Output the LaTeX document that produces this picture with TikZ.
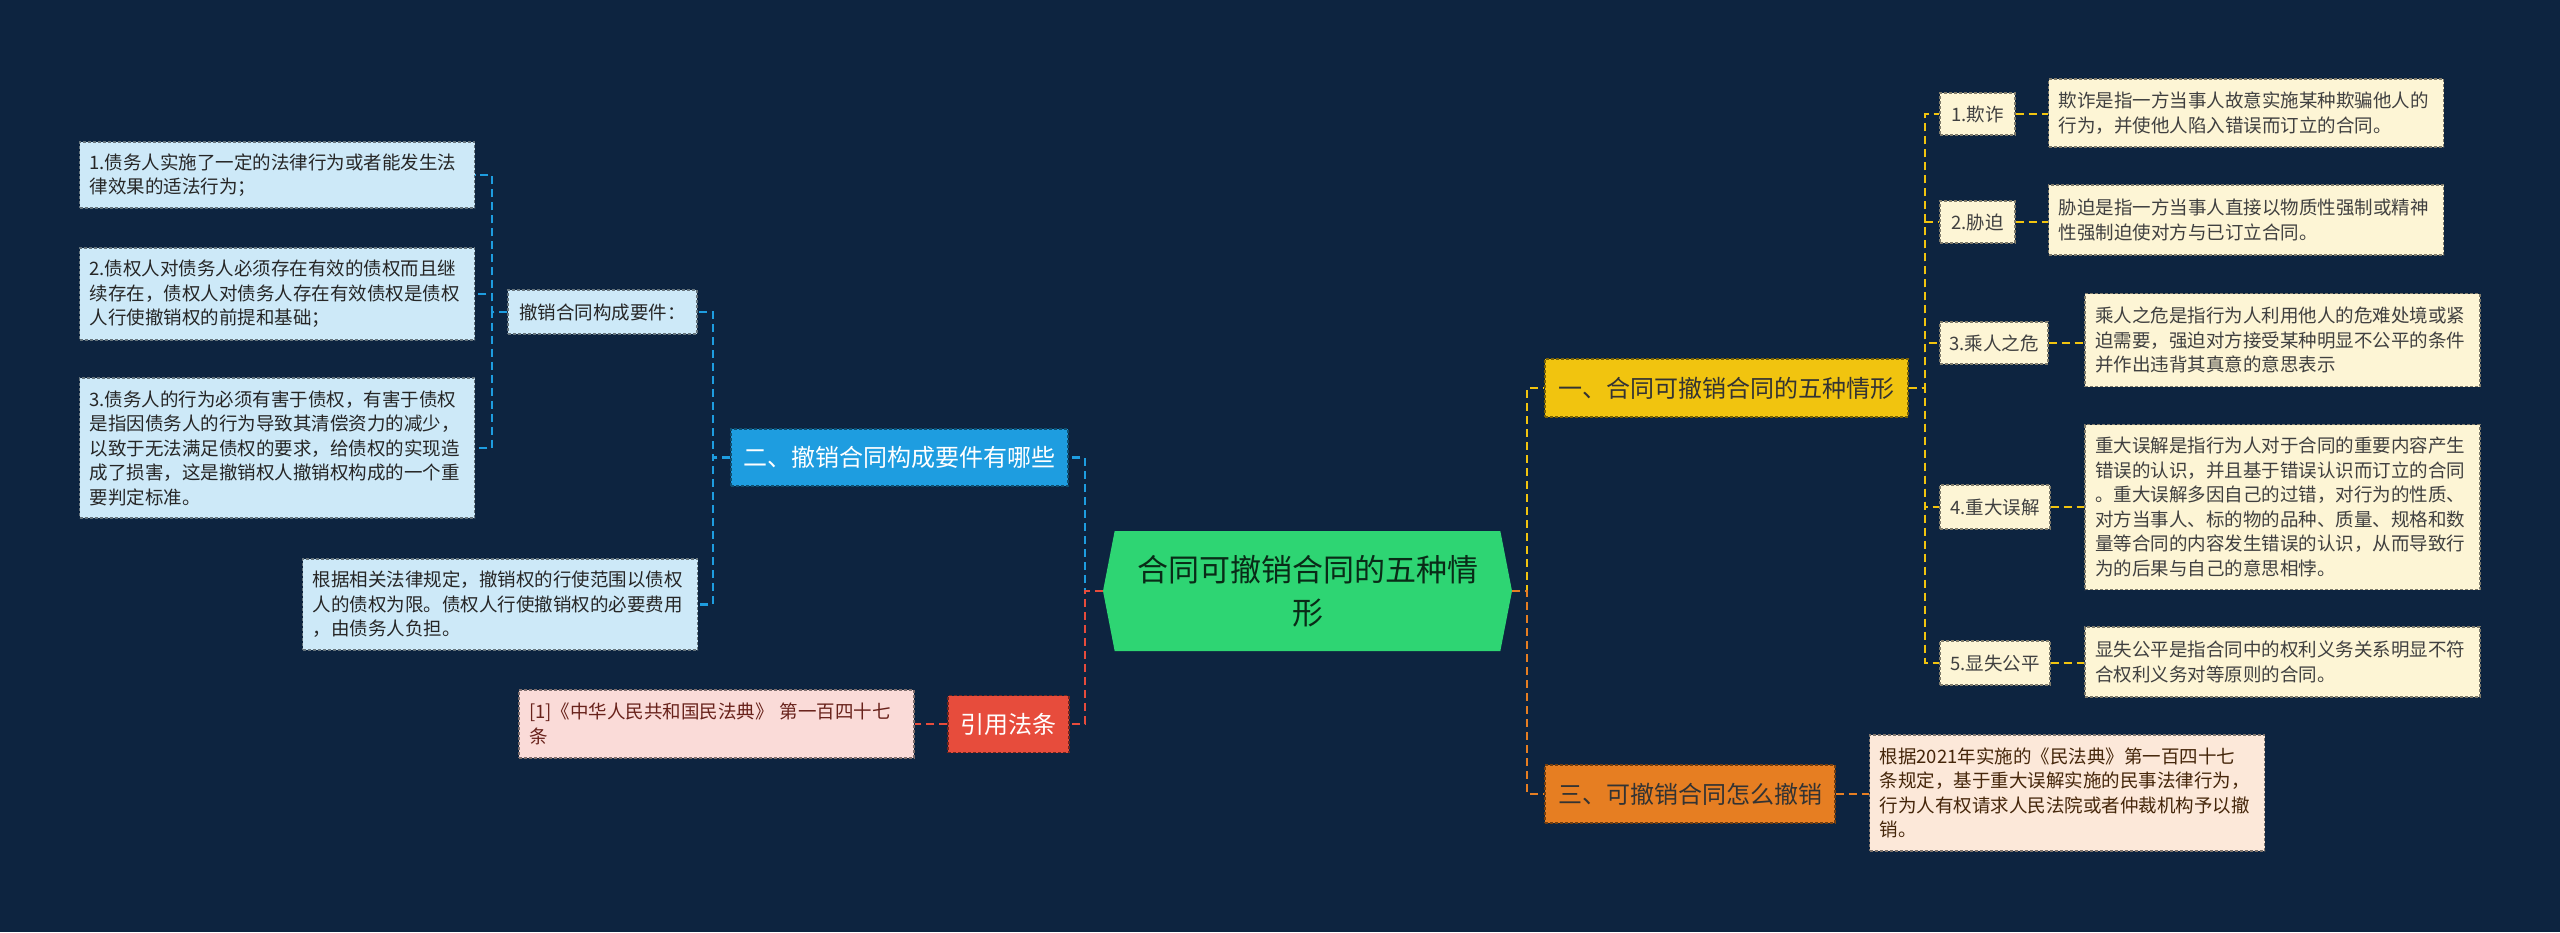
\documentclass[tikz,border=0pt]{standalone}
\usepackage{fontspec}
\setmainfont{Noto Sans CJK SC}
\usetikzlibrary{shapes.symbols}
\definecolor{bgnavy}{HTML}{0D2440}
\definecolor{cgreen}{HTML}{2ED573}
\definecolor{cblue}{HTML}{1E9DE0}
\definecolor{clblue}{HTML}{CDE9F8}
\definecolor{cyel}{HTML}{F1C40F}
\definecolor{ccream}{HTML}{FDF5D5}
\definecolor{corange}{HTML}{E67E22}
\definecolor{cpeach}{HTML}{FCE8D9}
\definecolor{cred}{HTML}{E74C3C}
\definecolor{cpink}{HTML}{FADBD8}

\begin{document}
\begin{tikzpicture}[x=1pt,y=-1pt,
  tbox/.style={fill=#1, draw=#1!50!black, dash pattern=on 3pt off 2pt, line width=1.1pt, inner ysep=0pt},
  txtbox/.style={text width=375pt, inner xsep=10pt, align=left, font=\fontsize{18.5}{24.5}\selectfont},
  lab/.style={minimum height=42pt, inner xsep=6pt, font=\fontsize{18.5}{22}\selectfont},
  big/.style={minimum height=57pt, inner xsep=12pt, font=\fontsize{24}{28}\selectfont},
  link/.style={line width=2.4pt, dash pattern=on 8pt off 5pt}]
\useasboundingbox (0,0) rectangle (2560,932);
\fill[bgnavy] (0,0) rectangle (2560,932);
% centre
\node[shape=signal, signal to=west and east, signal pointer angle=158, fill=cgreen,
  minimum width=409pt, minimum height=120pt, inner sep=0pt, text=black!80!cgreen,
  align=center, font=\fontsize{31}{43}\selectfont] (root) at (1307.5,591)
  {合同可撤销合同的五种情\\形};
% left side
\node[tbox=cblue, big, text=white, minimum width=337pt] (two) at (899.5,457.5) {二、撤销合同构成要件有哪些};
\node[tbox=clblue, lab, text=black!85, minimum width=189pt, minimum height=44pt] (req) at (602.5,312) {撤销合同构成要件：};
\node[tbox=clblue, txtbox, text=black!85, minimum height=66pt] (reqa) at (277,175)
  {1.债务人实施了一定的法律行为或者能发生法\\律效果的适法行为；};
\node[tbox=clblue, txtbox, text=black!85, minimum height=92pt] (reqb) at (277,294)
  {2.债权人对债务人必须存在有效的债权而且继\\续存在，债权人对债务人存在有效债权是债权\\人行使撤销权的前提和基础；};
\node[tbox=clblue, txtbox, text=black!85, minimum height=140pt] (reqc) at (277,448)
  {3.债务人的行为必须有害于债权，有害于债权\\是指因债务人的行为导致其清偿资力的减少，\\以致于无法满足债权的要求，给债权的实现造\\成了损害，这是撤销权人撤销权构成的一个重\\要判定标准。};
\node[tbox=clblue, txtbox, text=black!85, minimum height=91pt] (scope) at (500,604.5)
  {根据相关法律规定，撤销权的行使范围以债权\\人的债权为限。债权人行使撤销权的必要费用\\，由债务人负担。};
\node[tbox=cred, big, text=white, minimum width=121pt] (cite) at (1008.5,724) {引用法条};
\node[tbox=cpink, txtbox, text=cred!45!black, minimum height=68pt] (law) at (716.5,724)
  {[1]《中华人民共和国民法典》~第一百四十七\\条};
% right side
\node[tbox=cyel, big, text=black!80, minimum width=363pt, minimum height=58pt] (one) at (1726.5,388) {一、合同可撤销合同的五种情形};
\node[tbox=corange, big, text=black!80, minimum width=290pt, minimum height=58pt] (three) at (1690,794) {三、可撤销合同怎么撤销};
\node[tbox=cpeach, txtbox, text=corange!30!black, minimum height=116pt] (how) at (2067,793)
  {根据2021年实施的《民法典》第一百四十七\\条规定，基于重大误解实施的民事法律行为，\\行为人有权请求人民法院或者仲裁机构予以撤\\销。};
\node[tbox=ccream, lab, text=black!75, minimum width=75pt] (fraud) at (1977.5,114) {1.欺诈};
\node[tbox=ccream, lab, text=black!75, minimum width=75pt] (duress) at (1977.5,222) {2.胁迫};
\node[tbox=ccream, lab, text=black!75, minimum width=108pt] (peril) at (1994,343) {3.乘人之危};
\node[tbox=ccream, lab, text=black!75, minimum width=110pt, minimum height=44pt] (mistake) at (1995,507) {4.重大误解};
\node[tbox=ccream, lab, text=black!75, minimum width=110pt, minimum height=44pt] (unfair) at (1995,663) {5.显失公平};
\node[tbox=ccream, txtbox, text=black!75, minimum height=68pt] (fraudt) at (2246,113)
  {欺诈是指一方当事人故意实施某种欺骗他人的\\行为，并使他人陷入错误而订立的合同。};
\node[tbox=ccream, txtbox, text=black!75, minimum height=70pt] (duresst) at (2246,220)
  {胁迫是指一方当事人直接以物质性强制或精神\\性强制迫使对方与已订立合同。};
\node[tbox=ccream, txtbox, text=black!75, minimum height=93pt] (perilt) at (2282.5,340)
  {乘人之危是指行为人利用他人的危难处境或紧\\迫需要，强迫对方接受某种明显不公平的条件\\并作出违背其真意的意思表示};
\node[tbox=ccream, txtbox, text=black!75, minimum height=165pt] (mistaket) at (2282.5,507)
  {重大误解是指行为人对于合同的重要内容产生\\错误的认识，并且基于错误认识而订立的合同\\。重大误解多因自己的过错，对行为的性质、\\对方当事人、标的物的品种、质量、规格和数\\量等合同的内容发生错误的认识，从而导致行\\为的后果与自己的意思相悖。};
\node[tbox=ccream, txtbox, text=black!75, minimum height=70pt] (unfairt) at (2282.5,662)
  {显失公平是指合同中的权利义务关系明显不符\\合权利义务对等原则的合同。};
% junctions
\coordinate (jc) at (1085,591);
\coordinate (jl) at (713,457.5);
\coordinate (jq) at (492,312);
\coordinate (jm) at (1527,591);
\coordinate (jr) at (1925,388);
% connectors
\draw[link,cblue] (root.west) -- (jc) |- (two.east);
\draw[link,cred] (root.west) -- (jc) |- (cite.east);
\draw[link,cred] (cite.west) -- (law.east);
\foreach \n in {req,scope} \draw[link,cblue] (two.west) -- (jl) |- (\n.east);
\foreach \n in {reqa,reqb,reqc} \draw[link,cblue] (req.west) -- (jq) |- (\n.east);
\draw[link,cyel] (root.east) -- (jm) |- (one.west);
\draw[link,corange] (root.east) -- (jm) |- (three.west);
\draw[link,corange] (three.east) -- (how.west |- three.east);
\foreach \n in {fraud,duress,peril,mistake,unfair} {
  \draw[link,cyel] (one.east) -- (jr) |- (\n.west);
  \draw[link,cyel] (\n.east) -- (\n t.west |- \n.east);
}
\end{tikzpicture}
\end{document}
